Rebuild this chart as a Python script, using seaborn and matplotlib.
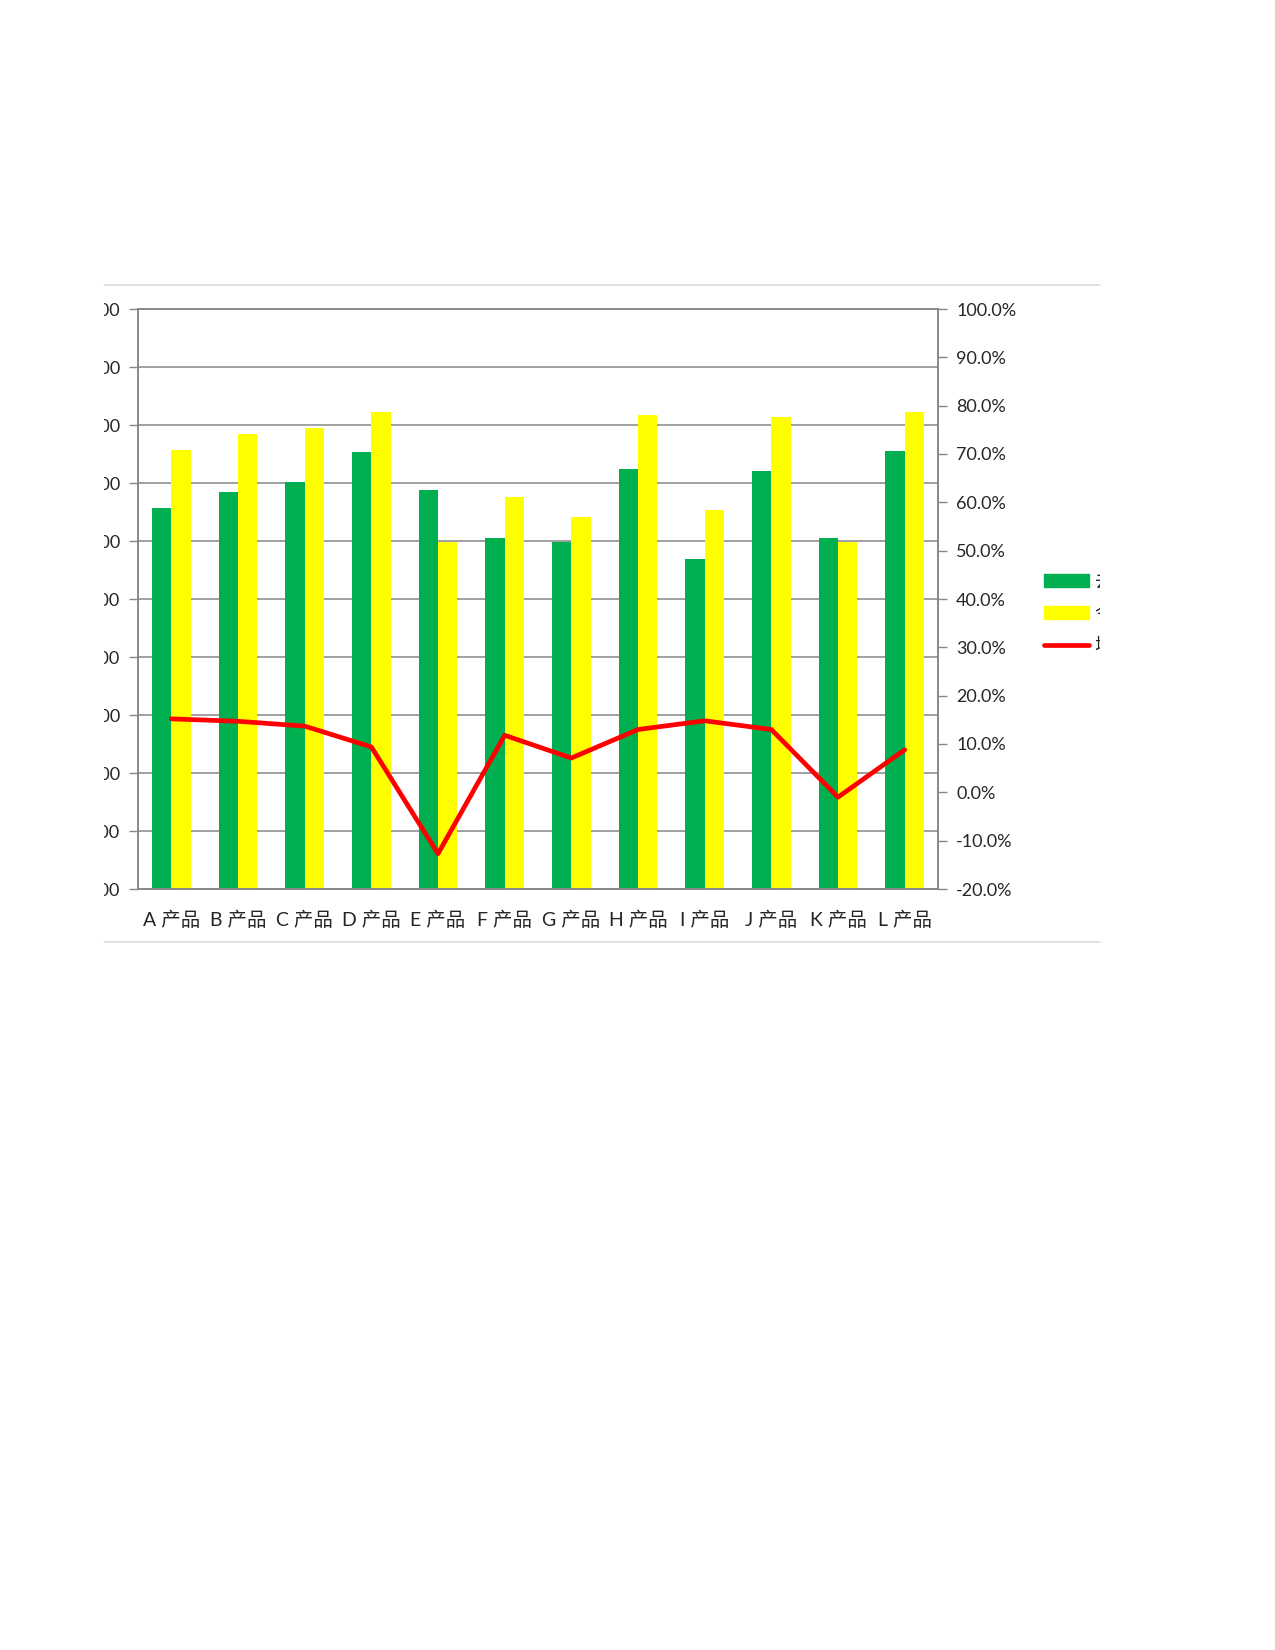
import seaborn as sns
import pandas as pd
import numpy as np
from matplotlib import pyplot as plt
from matplotlib.lines import Line2D
from matplotlib.patches import Patch
from matplotlib.transforms import Bbox, TransformedBbox
from matplotlib.ticker import FuncFormatter, PercentFormatter

# data
products = ['A产品', 'B产品', 'C产品', 'D产品', 'E产品', 'F产品',
            'G产品', 'H产品', 'I产品', 'J产品', 'K产品', 'L产品']
last_year = [657, 685, 701, 753, 688, 605, 599, 725, 569, 721, 606, 756]
this_year = [757, 784, 795, 823, 599, 676, 642, 818, 653, 814, 599, 823]
growth = [0.152, 0.147, 0.137, 0.094, -0.127, 0.118,
          0.071, 0.130, 0.148, 0.130, -0.010, 0.088]
series_names = ['去年销量', '今年销量', '增长率']

green, yellow, red, grey = '#00B050', '#FFFF00', '#FF0000', '#868686'
fs = 13
W, H = 1275, 1650

sns.set_style('white')
plt.rcParams['font.family'] = ['Lato', 'Noto Sans CJK SC', 'DejaVu Sans']
plt.rcParams['axes.unicode_minus'] = False

df = pd.DataFrame({'产品': products * 2,
                   '销量': last_year + this_year,
                   '系列': [series_names[0]] * len(products) + [series_names[1]] * len(products)})

fig = plt.figure(figsize=(W / 100, H / 100), dpi=100)
ax = fig.add_axes([138 / W, 1 - 889 / H, 800 / W, 580 / H])

sns.barplot(data=df, x='产品', y='销量', hue='系列', ax=ax,
            palette=[green, yellow], saturation=1, width=0.58, gap=0,
            linewidth=0, edgecolor='none', legend=False, zorder=2)

ax2 = ax.twinx()
sns.lineplot(x=np.arange(len(products)), y=growth, ax=ax2, color=red, lw=3.4, zorder=3)

# left axis
ax.set_xlim(-0.5, len(products) - 0.5)
ax.set_ylim(0, 1000)
ax.set_yticks(np.arange(0, 1001, 100))
ax.yaxis.set_major_formatter(FuncFormatter(lambda v, p: f'{v:,.2f}'))
ax.yaxis.grid(True, color=grey, lw=1.1)
ax.set_axisbelow(True)
ax.set_xlabel('')
ax.set_ylabel('')
ax.set_xticks(np.arange(len(products)))
ax.set_xticklabels([p[0] + ' ' + p[1:] for p in products])
ax.set_xticks(np.arange(-0.5, len(products), 1), minor=True)
ax.tick_params(axis='x', which='major', length=0, pad=15.5, labelsize=fs + 1)
ax.tick_params(axis='x', which='minor', length=6, width=1, color=grey, direction='out')
ax.tick_params(axis='y', length=6.5, width=1, color=grey, pad=6.5, labelsize=fs, direction='out', left=True)

# right axis
ax2.set_ylim(-0.2, 1.0)
ax2.set_yticks(np.arange(-0.2, 1.001, 0.1))
ax2.yaxis.set_major_formatter(PercentFormatter(1.0, decimals=1))
ax2.tick_params(axis='y', length=6.5, width=1, color=grey, pad=6.5, labelsize=fs, direction='out', right=True)
ax2.grid(False)

for a in (ax, ax2):
    for s in a.spines.values():
        s.set_color(grey)
        s.set_linewidth(1.1)

leg = fig.legend(handles=[Patch(color=green, label=series_names[0]),
                          Patch(color=yellow, label=series_names[1]),
                          Line2D([], [], color=red, lw=3.4, label=series_names[2])],
                 loc='upper left', bbox_to_anchor=(1044 / W, 1 - 573 / H),
                 frameon=False, fontsize=fs, handlelength=2.5, handletextpad=0.3,
                 borderpad=0, borderaxespad=0, labelspacing=0.85)

# chart box border lines and crop
for yy in (285, 942):
    fig.add_artist(Line2D([104 / W, 1100 / W], [1 - yy / H] * 2,
                          transform=fig.transFigure, color='#D9D9D9', lw=1.1))

crop = TransformedBbox(Bbox([[104 / W, 0], [1100 / W, 1]]), fig.transFigure)
for t in ax.get_yticklabels() + leg.get_texts():
    t.set_clip_box(crop)
    t.set_clip_on(True)

fig.savefig('out.png', dpi=100)
